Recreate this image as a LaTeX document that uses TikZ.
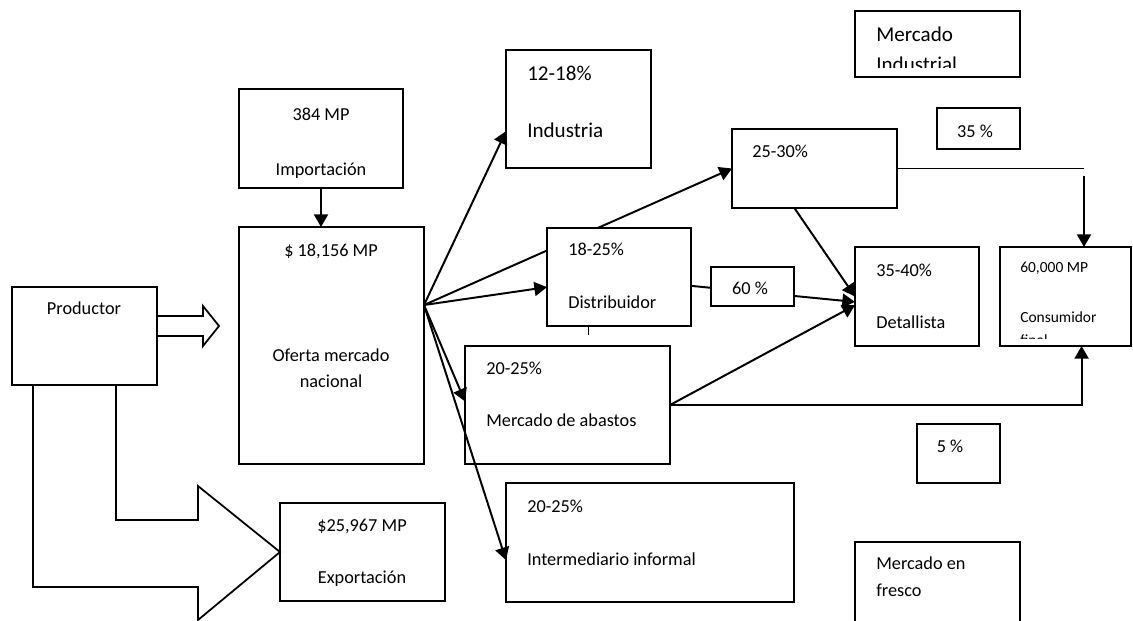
\documentclass[tikz,border=0pt]{standalone}
\usepackage{fontspec}
\setmainfont{Carlito}
\usetikzlibrary{arrows.meta,fit}

\tikzset{
  box/.style={draw, line width=1.25pt, inner sep=0pt, outer sep=0pt},
  wbox/.style={box, fill=white},
  lbl/.style={anchor=west, inner sep=0pt, text height=8.2pt, text depth=0pt, font=\fontsize{13}{15}\selectfont},
  clbl/.style={lbl, anchor=center},
  big/.style={font=\fontsize{15}{18}\selectfont, text height=9.5pt},
  small/.style={font=\fontsize{11}{13}\selectfont, text height=7pt},
  arr/.style={-{Triangle[length=9pt,width=10pt]}, line width=1.4pt},
  ln/.style={line width=1.1pt}
}

\begin{document}
\begin{tikzpicture}[x=0.025cm,y=-0.025cm]

\clip (0,0) rectangle (1133,620);

\node[box, fit={(12,287) (157,385)}] (prod) {};
\node[box, fit={(239,89) (403,188)}] (imp) {};
\node[box, fit={(239,227) (424,464)}] (of) {};
\node[box, fit={(280,503) (445,601)}] (exp) {};
\node[box, fit={(506,50) (651,168)}] (ind) {};
\node[box, fit={(855,11) (1020,77)}] (mind) {};
\node[box, fit={(937,108) (1020,149)}] (p35) {};
\node[box, fit={(732,129) (897,208)}] (may) {};
\node[box, fit={(855,247) (979,346)}] (det) {};
\node[box, fit={(1000,247) (1131,346)}] (cons) {};
\node[box, fit={(465,346) (670,464)}] (ab) {};
\node[box, fit={(917,424) (1000,483)}] (p5) {};
\node[box, fit={(506,483) (794,602)}] (inf) {};
\node[box, fit={(855,542) (1020,640)}] (fres) {};

\coordinate (hub) at (424,305);
\draw[arr] (hub) -- (may.west);
\node[wbox, fit={(547,228) (691,326)}] (dist) {};
\draw[arr] (dist.-7) -- (det.185);
\node[wbox, fit={(711,267) (794,306)}] (p60) {};

\draw[arr] (imp.south) -- (imp.south |- of.north);
\draw[arr] (hub) -- (ind.197);
\draw[arr] (hub) -- (dist.188);
\draw[arr] (hub) -- (ab.178);
\draw[arr] (hub) -- (inf.187);
\draw[ln] (dist.238) -- ++(0,9);
\draw[arr] (may.243) -- (det.west);
\draw[arr] (ab.east) -- (det.188);
\draw[arr] (ab.east) -| (cons.-72);
\coordinate (k) at (1084,176);
\draw[ln] (may.east) -- (may.east -| k);
\draw[arr] (k) -- (k |- cons.north);

\draw[box] (prod.east) -- ++(46,0) -- ++(0,10) -- ++(16,-20) -- ++(-16,-20) -- ++(0,10) -- ++(-46,0);
\draw[box] (33,385) -- (33,587) -- (198,587) -- (198,620) -- (exp.west) -- (198,486) -- (198,520) -- (116,520) -- (116,385);

\node[clbl] (tprod) at (84,309) {Productor};
\node[clbl] (timp1) at (321,115) {384 MP};
\node[clbl] (timp2) at (321,170) {Importación};
\node[clbl] (tof1) at (331,251) {\$ 18,156 MP};
\node[clbl] (tof2) at (331,356) {Oferta mercado};
\node[clbl] (tof3) at (331,382) {nacional};
\node[clbl] (texp1) at (362,526) {\$25,967 MP};
\node[clbl] (texp2) at (362,578) {Exportación};
\node[lbl,big] (tind1) at (527,74) {12-18\%};
\node[lbl,big] (tind2) at (527,131) {Industria};
\node[lbl,big] (tmind1) at (876,35) {Mercado};
\begin{scope}
\clip (855,11) rectangle (1020,67);
\node[lbl,big] (tmind2) at (876,65) {Industrial};
\end{scope}
\node[clbl] (t35) at (975,132) {35 \%};
\node[lbl] (tmay) at (752,152) {25-30\%};
\node[lbl] (tdist1) at (568,250) {18-25\%};
\node[lbl] (tdist2) at (568,303) {Distribuidor};
\node[clbl] (t60) at (750,289) {60 \%};
\node[lbl] (tdet1) at (876,271) {35-40\%};
\node[lbl] (tdet2) at (876,323) {Detallista};
\node[lbl,small] (tcons1) at (1020,268) {60,000 MP};
\node[lbl,small] (tcons2) at (1020,318) {Consumidor};
\begin{scope}
\clip (1000,247) rectangle (1131,338);
\node[lbl,small] (tcons3) at (1020,341) {final};
\end{scope}
\node[lbl] (tab1) at (486,369) {20-25\%};
\node[lbl] (tab2) at (486,421) {Mercado de abastos};
\node[clbl] (t5) at (950,447) {5 \%};
\node[lbl] (tinf1) at (527,507) {20-25\%};
\node[lbl] (tinf2) at (527,560) {Intermediario informal};
\node[lbl] (tfres1) at (876,564) {Mercado en};
\node[lbl] (tfres2) at (876,591) {fresco};

\end{tikzpicture}
\end{document}
